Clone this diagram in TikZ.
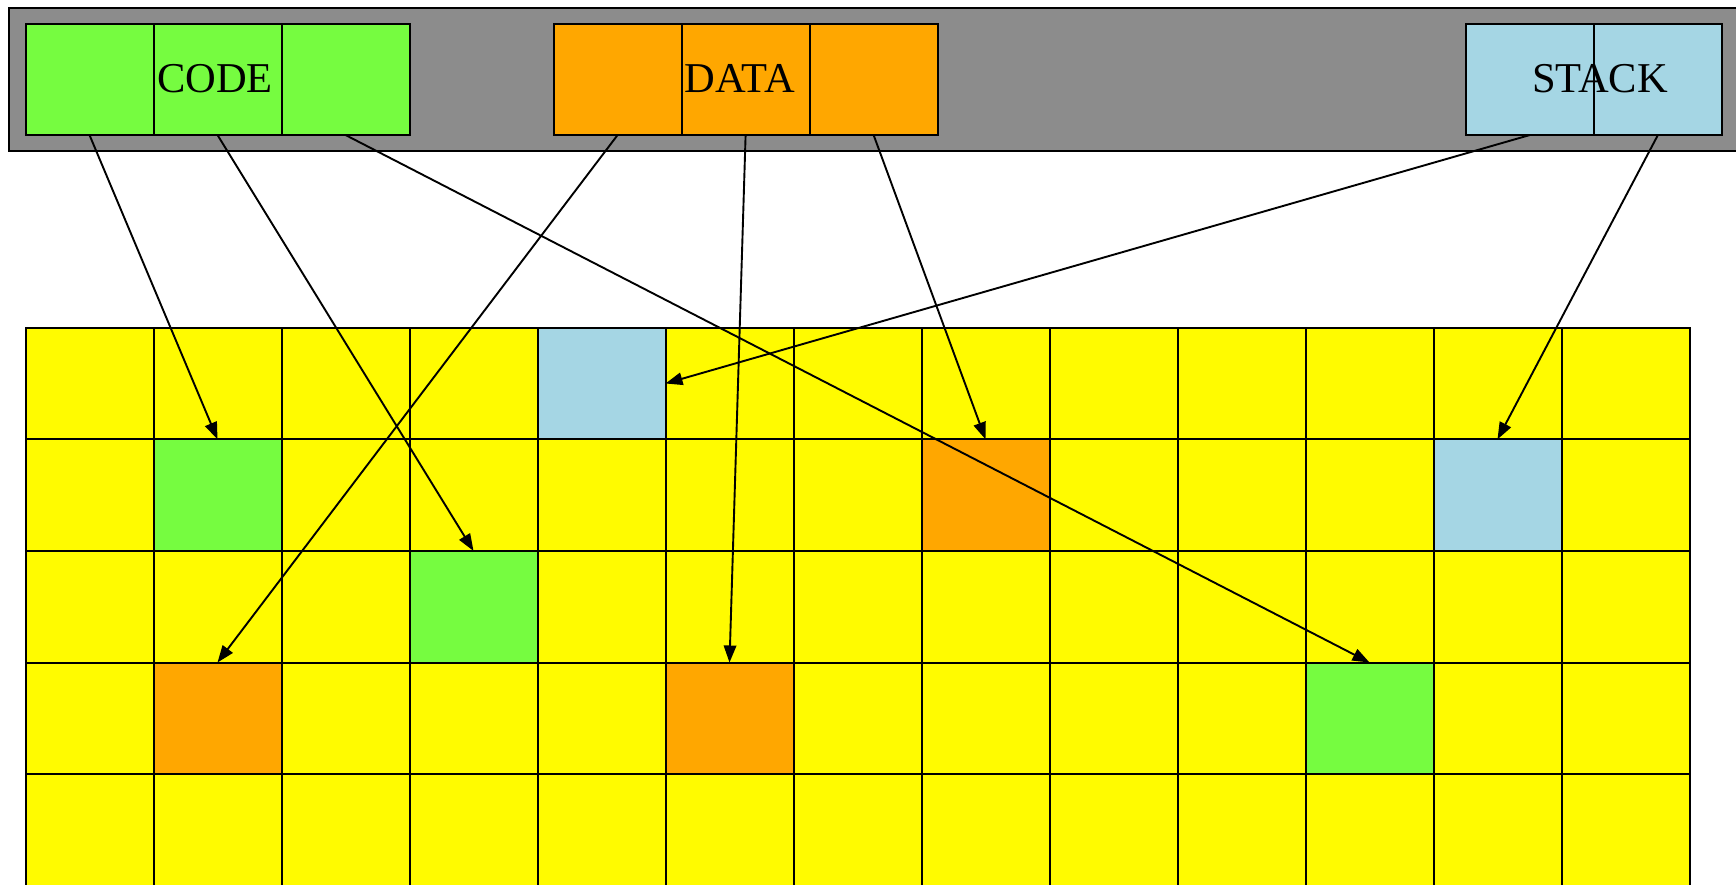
\documentclass[tikz,border=0pt]{standalone}
\usepackage{fontspec}
\setmainfont{Liberation Serif}
\usetikzlibrary{arrows.meta}
\definecolor{panelgray}{RGB}{140,140,140}
\definecolor{cellgreen}{RGB}{118,252,64}
\definecolor{cellorange}{RGB}{255,167,0}
\definecolor{cellblue}{RGB}{165,214,228}
\definecolor{cellyellow}{RGB}{255,251,0}
\begin{document}
\begin{tikzpicture}[x=1pt,y=-1pt,
  cell/.style={draw=black, line width=2pt, inner sep=0pt, outer sep=0pt,
               minimum width=128pt, minimum height=111.6pt},
  topcell/.style={cell, minimum height=110.6pt},
  lbl/.style={font=\fontsize{42.5}{50}\selectfont, inner sep=0pt, anchor=base},
  link/.style={draw=black, line width=1.9pt, -{Triangle[length=17pt,width=12.5pt]}}]
\useasboundingbox (0,0) rectangle (1736,884);
\clip (0,0) rectangle (1736,884);

% segment panel
\draw[fill=panelgray, line width=2pt] (8.9,7.75) rectangle (1760,150.6);
\foreach \i in {0,1,2} {
  \node[topcell, fill=cellgreen]  (code\i) at ({89.5+128*\i},79.7) {};
  \node[topcell, fill=cellorange] (data\i) at ({617.6+128*\i},79.7) {};
}
\foreach \i in {0,1}
  \node[topcell, fill=cellblue] (stack\i) at ({1529.9+128*\i},79.7) {};
\node[lbl] (codelbl)  at (215,92.5)   {CODE};
\node[lbl] (datalbl)  at (739.7,92.5) {DATA};
\node[lbl] (stacklbl) at (1600,92.5)  {STACK};

% page frames that are in use
\foreach \r/\c/\col in {0/4/cellblue,1/1/cellgreen,1/7/cellorange,1/11/cellblue,
                        2/3/cellgreen,3/1/cellorange,3/5/cellorange,3/10/cellgreen}
  {\expandafter\xdef\csname cf-\r-\c\endcsname{\col}}

% physical memory grid
\foreach \r in {0,...,4} {
  \foreach \c in {0,...,12} {
    \ifcsname cf-\r-\c\endcsname
      \edef\fc{\csname cf-\r-\c\endcsname}%
    \else
      \def\fc{cellyellow}%
    \fi
    \node[cell, fill=\fc] (g-\r-\c) at ({89.5+128*\c},{383.5+111.6*\r}) {};
  }
}

% page mappings
\draw[link] (code0.south)  -- (g-1-1.north);
\draw[link] (code1.south)  -- (g-2-3.north);
\draw[link] (code2.south)  -- (g-3-10.north);
\draw[link] (data0.south)  -- (g-3-1.north);
\draw[link] (data1.south)  -- (g-3-5.north);
\draw[link] (data2.south)  -- (g-1-7.north);
\draw[link] (stack0.south) -- (g-0-4.east);
\draw[link] (stack1.south) -- (g-1-11.north);
\end{tikzpicture}
\end{document}
